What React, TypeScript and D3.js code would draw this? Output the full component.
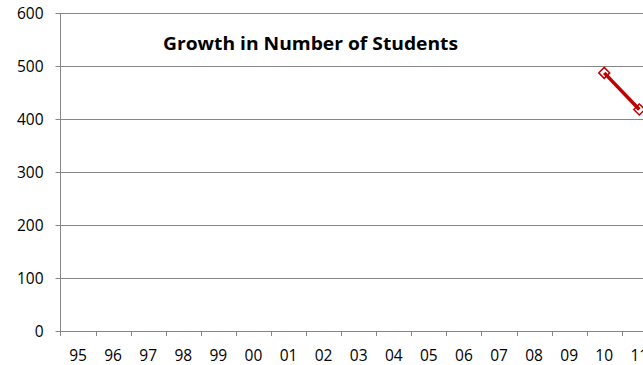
import React from "react";
import * as d3 from "d3";

const categories = ["95","96","97","98","99","00","01","02","03","04","05","06","07","08","09","10","11"];
const students: (number | null)[] = [null,null,null,null,null,null,null,null,null,null,null,null,null,null,null,487,418];
const yTicks = [0, 100, 200, 300, 400, 500, 600];
const title = "Growth in Number of Students";

export default function App() {
  const W = 643, H = 365;
  const left = 60.5, top = 13, bottom = 331;
  const band = 35.08;
  const x = d3.scaleBand<string>().domain(categories).range([left, left + band * categories.length]);
  const y = d3.scaleLinear().domain([0, 600]).range([bottom, top]);
  const pts = categories.map((c, i) => ({ c, v: students[i] })).filter(d => d.v != null) as { c: string; v: number }[];
  const line = d3.line<{ c: string; v: number }>().x(d => x(d.c)! + x.bandwidth() / 2).y(d => y(d.v));
  const font = "'Open Sans', sans-serif";
  return (
    <svg width={W} height={H} style={{ position: "absolute", left: 0, top: 0, background: "#fff" }}>
      <rect width={W} height={H} fill="#fff" />
      {yTicks.map(t => (
        <g key={t}>
          <line x1={left} x2={W} y1={Math.round(y(t)) + 0.5} y2={Math.round(y(t)) + 0.5} stroke="#868686" strokeWidth={1} />
          <line x1={left - 5} x2={left} y1={Math.round(y(t)) + 0.5} y2={Math.round(y(t)) + 0.5} stroke="#868686" strokeWidth={1} />
          <text x={43.5} y={y(t) + 5.5} textAnchor="end" fontFamily={font} fontSize={15.5} fill="#000">{t}</text>
        </g>
      ))}
      <line x1={left} x2={left} y1={top} y2={bottom + 5} stroke="#868686" strokeWidth={1} />
      {categories.map((c, i) => (
        <g key={c}>
          {i > 0 && <line x1={Math.round(x(c)!) + 0.5} x2={Math.round(x(c)!) + 0.5} y1={bottom} y2={bottom + 5} stroke="#868686" strokeWidth={1} />}
          <text x={x(c)! + x.bandwidth() / 2} y={360.5} textAnchor="middle" fontFamily={font} fontSize={15.5} fill="#000">{c}</text>
        </g>
      ))}
      <text x={310.5} y={50} textAnchor="middle" fontFamily={font} fontWeight="bold" fontSize={18.5} textLength={295} lengthAdjust="spacingAndGlyphs" fill="#000">{title}</text>
      <path d={line(pts) || ""} fill="none" stroke="#C00000" strokeWidth={3.5} />
      {pts.map(d => {
        const cx = x(d.c)! + x.bandwidth() / 2, cy = y(d.v), r = 5.5;
        return <path key={d.c} d={`M${cx},${cy - r}L${cx + r},${cy}L${cx},${cy + r}L${cx - r},${cy}Z`} fill="none" stroke="#C00000" strokeWidth={1.5} />;
      })}
    </svg>
  );
}
